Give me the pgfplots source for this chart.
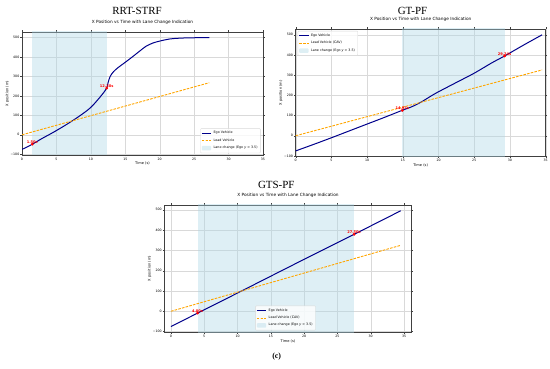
\documentclass[border=0pt]{standalone}
\usepackage{pgfplots}
\pgfplotsset{compat=1.18}
\usepackage{fontspec}
\setmainfont{Liberation Serif}
\newfontfamily\dv{DejaVu Sans}
\definecolor{egoc}{RGB}{0,0,139}
\definecolor{leadc}{RGB}{255,165,0}
\definecolor{lblue}{RGB}{173,216,230}
\pgfplotsset{
  panel/.style={
    scale only axis,
    anchor=north west,
    xmin=0,xmax=35,
    ymin=-103.75,ymax=528.75,
    xtick={0,5,...,35},
    ytick={-100,0,...,500},
    yticklabels={−100,0,100,200,300,400,500},
    grid=major,
    grid style={black!15, line width=0.35bp},
    axis line style={black!75, line width=0.45bp},
    tick align=outside,
    major tick length=1.5bp,
    tick style={black!75, line width=0.3bp},
    ticklabel style={font=\dv\fontsize{3.2}{4}\selectfont, inner sep=1bp},
    /pgf/number format/assume math mode=true,
    label style={font=\dv\fontsize{3.6}{4}\selectfont},
    xlabel={Time (s)}, ylabel={X position (m)},
    xlabel style={yshift=2.5bp},
    ylabel style={yshift=-3bp},
    title={X Position vs Time with Lane Change Indication},
    title style={font=\dv\fontsize{4.3}{5}\selectfont, at={(0.5,1)}, anchor=south, yshift=0.2bp, inner sep=0.8bp},
    legend style={font=\dv\fontsize{3.3}{3.9}\selectfont, draw=black!15, rounded corners=0.8bp, inner sep=0.8bp, row sep=-0.6bp, fill=white, fill opacity=0.8, text opacity=1},
    legend cell align=left,
    legend image post style={xscale=0.55},
  },
  egostyle/.style={egoc, line width=1bp, smooth},
  leadstyle/.style={leadc, line width=0.9bp, dash pattern=on 2.6bp off 1.2bp},
  shadestyle/.style={fill=lblue, fill opacity=0.4, draw=none, forget plot},
  dotstyle/.style={only marks, mark=*, red, mark size=1.2bp, nodes near coords, point meta=explicit symbolic,
    nodes near coords style={font=\dv\bfseries\fontsize{3.6}{4.2}\selectfont, red, anchor=south, inner sep=0.4bp, yshift=0.3bp}},
  shadelegend/.style={legend image code/.code={\fill[lblue, fill opacity=0.4, draw=none] (0bp,-2.2bp) rectangle (17bp,2.2bp);}},
}
\begin{document}
\begin{tikzpicture}
\path[use as bounding box] (0bp,0bp) rectangle (550bp,369bp);
% Panel 1
\node[font=\fontsize{11}{13}\selectfont] at (137bp,358bp) {RRT-STRF};
\begin{axis}[panel, at={(22bp,337bp)}, width=241bp, height=123bp,
  legend style={at={(0.99,0.015)}, anchor=south east}]
\addplot[shadestyle] coordinates {(1.5,-200) (12.3,-200) (12.3,700) (1.5,700)} -- cycle;
\addplot[egostyle] coordinates {(0,-75) (1,-58) (1.5,-48) (2,-38) (3,-17) (4,2) (5,22) (6,43) (7,65) (8,88) (9,113) (9.7,132) (10.3,152) (11,180) (11.7,210) (12.3,240) (12.5,268) (12.8,300) (13.3,325) (14,347) (15,373) (16,400) (17,428) (18,455) (19,472) (20,482) (21,490) (22,495) (24,498.5) (27.2,500)};
\addlegendentry{Ego Vehicle}
\addplot[leadstyle] coordinates {(0,0) (27.2,268)};
\addlegendentry{Lead Vehicle}
\addlegendimage{shadelegend}
\addlegendentry{Lane change (Ego {\itshape y} > 3.5)}
\addplot[dotstyle, forget plot] coordinates {(1.5,-48) [1.50s] (12.3,240) [12.30s]};
\end{axis}
% Panel 2
\node[font=\fontsize{11}{13}\selectfont] at (412.5bp,358bp) {GT-PF};
\begin{axis}[panel, at={(295.7bp,340bp)}, width=250bp, height=127.7bp,
  legend style={at={(0.008,0.985)}, anchor=north west}]
\addplot[shadestyle] coordinates {(14.92,-200) (29.24,-200) (29.24,700) (14.92,700)} -- cycle;
\addplot[egostyle] coordinates {(0,-75) (2.5,-43) (5,-10) (7.5,24) (10,58) (12.5,92) (14.92,126) (16,140) (17,156) (18,176) (19,198) (20,218) (22.5,264) (25,310) (27.5,362) (29.24,395) (32,451) (34.5,500)};
\addlegendentry{Ego Vehicle}
\addplot[leadstyle] coordinates {(0,0) (34.5,326)};
\addlegendentry{Lead Vehicle (CAV)}
\addlegendimage{shadelegend}
\addlegendentry{Lane change (Ego {\itshape y} > 3.5)}
\addplot[dotstyle, forget plot] coordinates {(14.92,126) [14.92s] (29.24,395) [29.24s]};
\end{axis}
% Panel 3
\node[font=\fontsize{11}{13}\selectfont] at (276.3bp,184bp) {GTS-PF};
\begin{axis}[panel, at={(164.3bp,164bp)}, width=247.4bp, height=127.3bp,
  xmin=-1, xmax=36.15, ymin=-103.5, ymax=523.5,
  legend style={at={(0.49,0.015)}, anchor=south}]
\addplot[shadestyle] coordinates {(4,-200) (27.5,-200) (27.5,700) (4,700)} -- cycle;
\addplot[egostyle] coordinates {(0,-75) (4,-9) (10,90) (20,256) (27.5,379) (34.5,495)};
\addlegendentry{Ego Vehicle}
\addplot[leadstyle] coordinates {(0,0) (34.5,325)};
\addlegendentry{Lead Vehicle (CAV)}
\addlegendimage{shadelegend}
\addlegendentry{Lane change (Ego {\itshape y} > 3.5)}
\addplot[dotstyle, forget plot] coordinates {(4,-9) [4.00s] (27.5,379) [27.50s]};
\end{axis}
\node[font=\bfseries\fontsize{8}{10}\selectfont] at (276.7bp,12.5bp) {(c)};
\end{tikzpicture}
\end{document}
